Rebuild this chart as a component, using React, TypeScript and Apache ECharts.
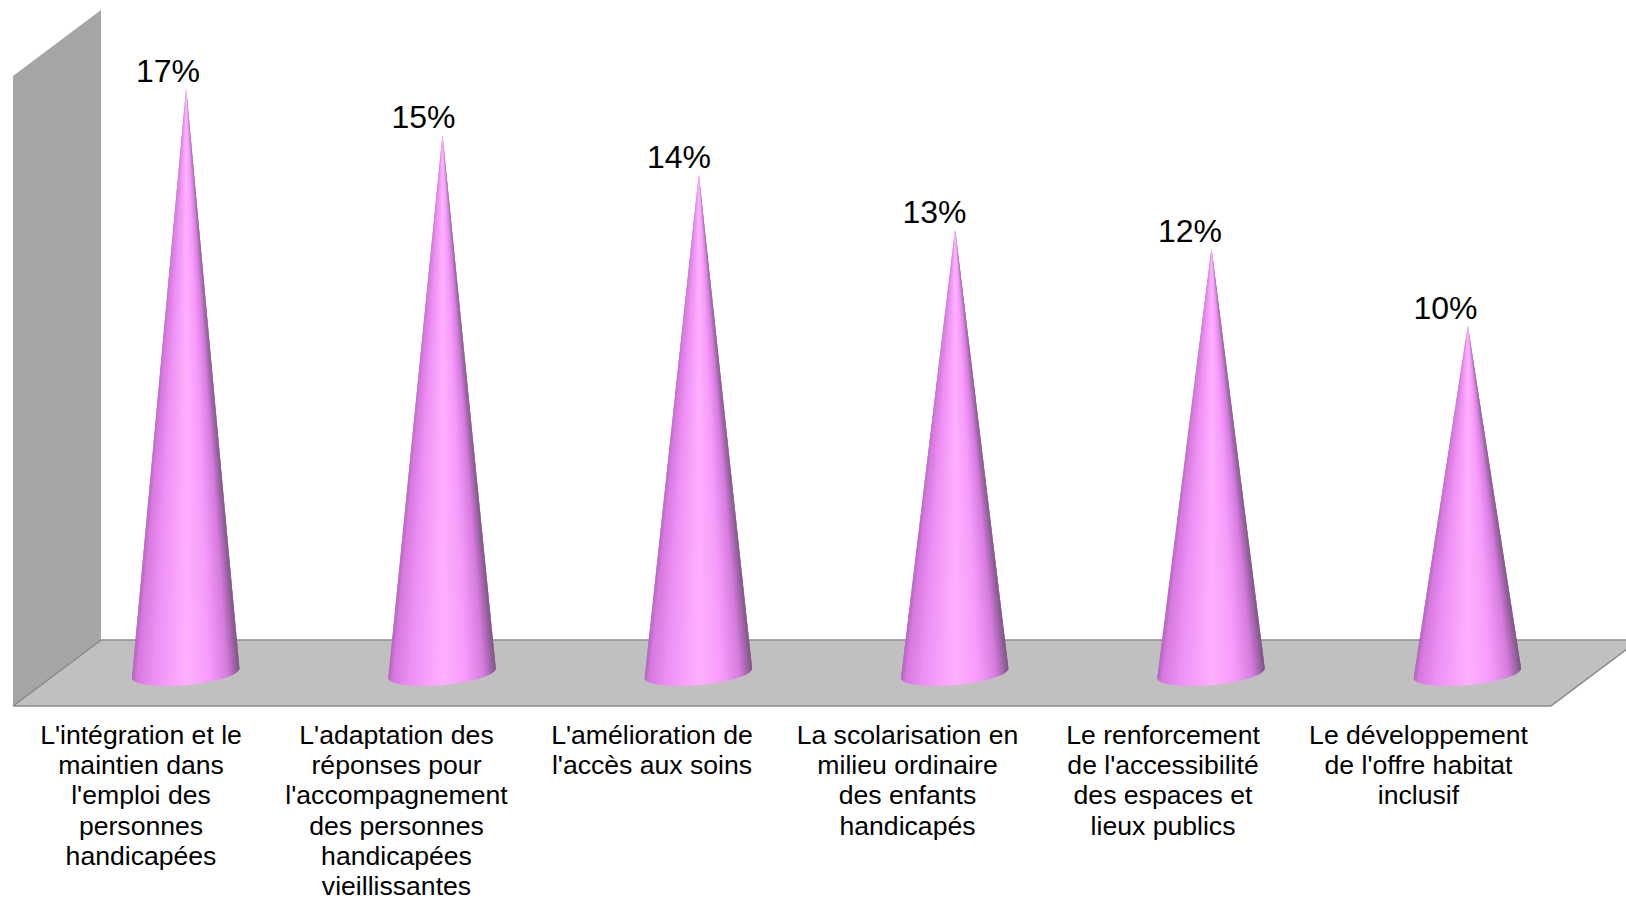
import React, { useEffect, useRef } from "react";
import * as echarts from "echarts";

const categories = [
  "L'intégration et le\nmaintien dans\nl'emploi des\npersonnes\nhandicapées",
  "L'adaptation des\nréponses pour\nl'accompagnement\ndes personnes\nhandicapées\nvieillissantes",
  "L'amélioration de\nl'accès aux soins",
  "La scolarisation en\nmilieu ordinaire\ndes enfants\nhandicapés",
  "Le renforcement\nde l'accessibilité\ndes espaces et\nlieux publics",
  "Le développement\nde l'offre habitat\ninclusif",
];
// cone heights, on the chart's hidden percent axis
const coneHeights = [17, 15.65, 14.5, 12.9, 12.35, 10.1];
// printed labels of the reference
const percentLabels = ["17%", "15%", "14%", "13%", "12%", "10%"];

const FONT = '"Liberation Sans", Arial, sans-serif';
const GRID_LEFT = 13;
const GRID_WIDTH = 1538;
const LABEL_GRID_LEFT = 13.25;
const LABEL_GRID_WIDTH = 1533;
const FLOOR_Y = 706;
const DEPTH_X = 88;
const DEPTH_Y = 66;
const UNIT = 34.4;
const AXIS_MAX = 18;

const shadeStops: [number, number[]][] = [
  [0, [178, 104, 188]],
  [0.04, [216, 120, 224]],
  [0.2, [238, 144, 244]],
  [0.5, [255, 176, 255]],
  [0.72, [246, 154, 250]],
  [0.88, [214, 124, 222]],
  [0.97, [150, 94, 158]],
  [1, [125, 84, 130]],
];

function shade(t: number) {
  for (let i = 1; i < shadeStops.length; i++) {
    const [a, ca] = shadeStops[i - 1];
    const [b, cb] = shadeStops[i];
    if (t <= b) {
      const k = (t - a) / (b - a);
      const c = ca.map((v, j) => Math.round(v + (cb[j] - v) * k));
      return `rgb(${c[0]},${c[1]},${c[2]})`;
    }
  }
  return "rgb(125,84,130)";
}

function renderCone(_params: any, api: any) {
  const idx = api.value(0);
  const base = api.coord([idx, 0]);
  const top = api.coord([idx, api.value(1)]);
  const cx = base[0] + DEPTH_X / 2 + 0.5;
  const cy = base[1] - DEPTH_Y / 2;
  const tipX = top[0] + DEPTH_X / 2 + 1;
  const tipY = top[1] - DEPTH_Y / 2;
  const rx = 54;
  const ry = 12;
  const rot = (-5.3 * Math.PI) / 180;
  const point = (th: number) => {
    const x = rx * Math.cos(th);
    const y = ry * Math.sin(th);
    return [cx + x * Math.cos(rot) - y * Math.sin(rot), cy + x * Math.sin(rot) + y * Math.cos(rot)];
  };
  const n = 56;
  const step = Math.PI / n;
  const children: any[] = [];
  // Paint from both silhouettes inwards, each wedge running one step under its successor.
  const wedge = (i: number, inwardIsForward: boolean) => {
    const a = Math.PI - step * i;
    const b = a - step;
    const fill = shade((1 + Math.cos((a + b) / 2)) / 2);
    const p1 = inwardIsForward ? point(a) : point(a + step);
    const p2 = inwardIsForward ? point(b - step) : point(b);
    return {
      type: "polygon",
      shape: { points: [[tipX, tipY], p1, p2] },
      style: { fill },
      silent: true,
    };
  };
  for (let k = 0; k < n / 2; k++) {
    children.push(wedge(k, true));
    children.push(wedge(n - 1 - k, false));
  }
  return { type: "group", children };
}

function renderPercent(params: any, api: any) {
  const idx = api.value(0);
  const top = api.coord([idx, api.value(1)]);
  return {
    type: "text",
    style: {
      text: percentLabels[params.dataIndex],
      x: top[0] + 27,
      y: top[1] - DEPTH_Y / 2 - 17.5,
      fill: "#000000",
      fontSize: 32,
      fontFamily: FONT,
      align: "center",
      verticalAlign: "middle",
    },
    silent: true,
  };
}

const floorEdge = "#8f8f8f";

export default function App() {
  const ref = useRef<HTMLDivElement>(null);
  useEffect(() => {
    const chart = echarts.init(ref.current!, undefined, { renderer: "svg" });
    const backX = GRID_LEFT + DEPTH_X;
    const backY = FLOOR_Y - DEPTH_Y;
    const frontRight = GRID_LEFT + GRID_WIDTH;
    const top = FLOOR_Y - AXIS_MAX * UNIT;
    const height = AXIS_MAX * UNIT;
    const data = coneHeights.map((v, i) => [i, v]);
    chart.setOption({
      animation: false,
      backgroundColor: "#ffffff",
      graphic: {
        elements: [
          {
            type: "polygon",
            z: 0,
            shape: { points: [[GRID_LEFT, 76], [backX, 10], [backX, backY], [GRID_LEFT, FLOOR_Y]] },
            style: { fill: "#a6a6a6" },
            silent: true,
          },
          {
            type: "polygon",
            z: 0,
            shape: { points: [[GRID_LEFT, FLOOR_Y], [backX, backY], [frontRight + DEPTH_X, backY], [frontRight, FLOOR_Y]] },
            style: { fill: "#c0c0c0" },
            silent: true,
          },
          {
            type: "polyline",
            z: 0,
            shape: { points: [[GRID_LEFT, FLOOR_Y], [frontRight, FLOOR_Y], [frontRight + DEPTH_X, backY], [backX, backY], [GRID_LEFT, FLOOR_Y]] },
            style: { fill: "none", stroke: floorEdge, lineWidth: 1.6 },
            silent: true,
          },
        ],
      },
      grid: [
        { left: GRID_LEFT, width: GRID_WIDTH, top, height, outerBoundsMode: "none" },
        { left: LABEL_GRID_LEFT, width: LABEL_GRID_WIDTH, top, height, outerBoundsMode: "none" },
      ],
      xAxis: [
        {
          type: "category",
          gridIndex: 0,
          data: categories,
          axisLine: { show: false },
          axisTick: { show: false },
          axisLabel: { show: false },
        },
        {
          type: "category",
          gridIndex: 1,
          data: categories,
          axisLine: { show: false },
          axisTick: { show: false },
          axisLabel: {
            interval: 0,
            margin: 14,
            color: "#000000",
            fontSize: 26.6,
            lineHeight: 30.15,
            fontFamily: FONT,
            align: "center",
            verticalAlign: "top",
          },
        },
      ],
      yAxis: [
        { type: "value", gridIndex: 0, min: 0, max: AXIS_MAX, show: false, splitLine: { show: false } },
        { type: "value", gridIndex: 1, min: 0, max: AXIS_MAX, show: false, splitLine: { show: false } },
      ],
      series: [
        {
          type: "custom",
          renderItem: renderCone,
          xAxisIndex: 0,
          yAxisIndex: 0,
          encode: { x: 0, y: 1 },
          clip: false,
          data,
        },
        {
          type: "custom",
          renderItem: renderPercent,
          xAxisIndex: 1,
          yAxisIndex: 1,
          encode: { x: 0, y: 1 },
          clip: false,
          data,
        },
      ],
    });
    return () => chart.dispose();
  }, []);
  return <div ref={ref} style={{ position: "fixed", left: 0, top: 0, width: 1626, height: 901 }} />;
}
